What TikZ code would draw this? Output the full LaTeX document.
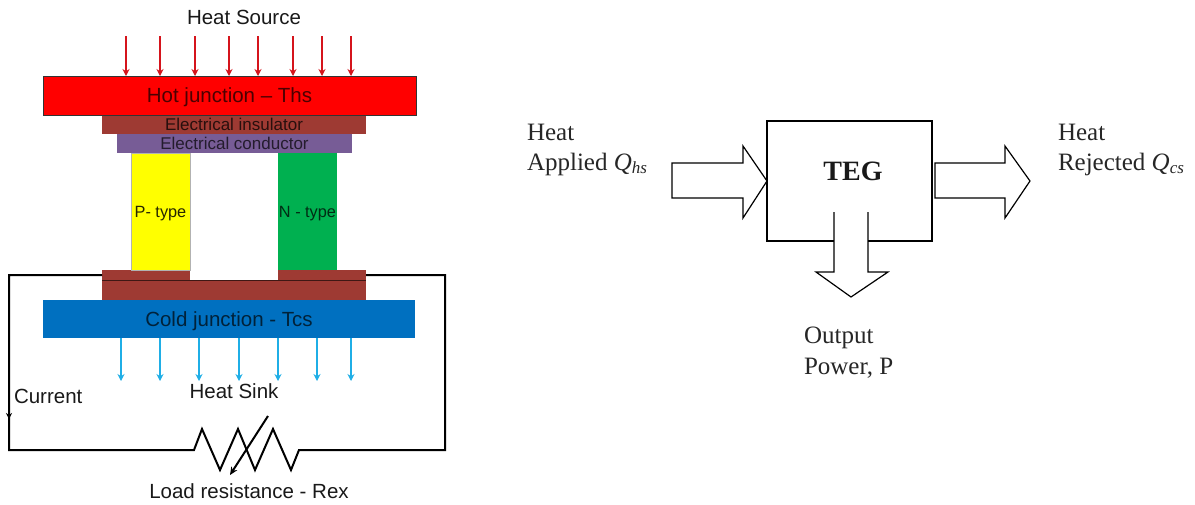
\documentclass[tikz,border=0pt]{standalone}
\usepackage{fontspec}
\setmainfont{Liberation Sans}
\newfontfamily\serifface{Liberation Serif}
\usetikzlibrary{arrows.meta}
\definecolor{hotred}{HTML}{FF0000}
\definecolor{insul}{HTML}{9E3A33}
\definecolor{condu}{HTML}{775C96}
\definecolor{ptype}{HTML}{FFFF00}
\definecolor{ntype}{HTML}{00B050}
\definecolor{coldb}{HTML}{0070C0}
\definecolor{sinkb}{HTML}{1FAEE6}
\definecolor{srcred}{HTML}{D5141C}
\tikzset{
  x=1pt,y=-1pt,
  slab/.style={rectangle,inner sep=0pt,outer sep=0pt,anchor=center,text depth=0pt},
  big/.style={font=\fontsize{20.5}{24}\selectfont},
  bigcap/.style={big,text height=14.8pt},
  mid/.style={font=\fontsize{17}{20}\selectfont,text height=12.2pt},
  small/.style={font=\fontsize{16.3}{20}\selectfont,text height=11.7pt},
  label/.style={inner sep=0pt,outer sep=0pt,text=black!90},
  heatin/.style={draw=srcred,line width=2pt,-{Stealth[length=7pt,width=7pt]}},
  heatout/.style={draw=sinkb,line width=2pt,-{Stealth[length=7pt,width=7pt]}},
  wire/.style={draw=black,line width=2pt,line join=miter},
  serifl/.style={inner sep=0pt,outer sep=0pt,align=left,anchor=north west,
    font=\serifface\fontsize{25}{30.5}\selectfont,text=black!85},
  flow/.style={draw=black,line width=1.2pt,line join=miter},
  box/.style={draw=black,line width=1.2pt},
}
\newcommand{\sbs}[1]{\raisebox{-3pt}{\fontsize{17}{20}\selectfont\itshape #1}}
\begin{document}
\begin{tikzpicture}
\useasboundingbox (0,0) rectangle (1195,504);
% left diagram: layers
\node[slab,fill=insul,minimum width=264pt,minimum height=20pt] (base) at (234,290) {};
\node[slab,fill=insul,minimum width=88pt,minimum height=10pt] (padl) at (146,275) {};
\node[slab,fill=insul,minimum width=88pt,minimum height=10pt] (padr) at (322,275) {};
\draw[black!60!insul,line width=.7pt] (base.north west) -- (base.north east);
\node[slab,fill=ptype,draw=black!30,line width=.4pt,minimum width=59pt,minimum height=117pt,small,text=black!85!ptype] (p) at (160.5,211.5) {P- type};
\node[slab,fill=ntype,minimum width=59pt,minimum height=117pt,small,text=black!75!ntype] (n) at (307.5,211.5) {N - type};
\node[slab,fill=insul,minimum width=264pt,minimum height=19pt,mid,text=black!75!insul] (ins) at (234,124.5) {Electrical insulator};
\node[slab,fill=condu,minimum width=235pt,minimum height=19pt,mid,text=black!70!condu] (con) at (234.5,143.5) {Electrical conductor};
\node[slab,fill=hotred,draw=black!80,line width=.9pt,minimum width=373pt,minimum height=39pt,bigcap,text=black!70!hotred] (hot) at (229.5,95.5) {Hot junction -- Ths};
\node[slab,fill=coldb,minimum width=372pt,minimum height=38pt,bigcap,text=black!70!coldb] (cold) at (229,319) {Cold junction - Tcs};
% heat arrows
\foreach \i/\x in {1/126,2/160,3/195,4/229,5/258,6/293,7/322,8/351}{
  \coordinate (r\i) at (\x,36);
  \draw[heatin] (r\i) -- (r\i |- hot.north);
}
\foreach \i/\x in {1/121,2/160,3/199,4/239,5/278,6/317,7/351}{
  \coordinate (b\i) at (\x,381);
  \draw[heatout] (b\i |- cold.south) -- (b\i);
}
% labels
\node[label,big] (src) at (244,17) {Heat Source};
\node[label,big] (sink) at (234,391.5) {Heat Sink};
\node[label,big,anchor=west] (cur) at (14,396) {Current};
\node[label,big] (rex) at (249,491) {Load resistance - Rex};
% circuit
\coordinate (wl) at (padl.west);
\coordinate (wr) at (padr.east);
\coordinate (rs) at (194,450);
\coordinate (re) at (299,450);
\draw[wire] (wl) -- (9,275) -- (9,450) -- (rs) -- (202,429) -- (220,470) -- (238,429) -- (255,470) -- (273,429) -- (291,470) -- (re) -- (445,450) -- (445,275) -- (wr);
\coordinate (curtop) at (9,411);
\coordinate (curtip) at (9,419);
\draw[black,line width=1pt,-{Stealth[length=6pt,width=6pt]}] (curtop) -- (curtip);
\coordinate (vs) at (268,416);
\coordinate (ve) at (230,475);
\draw[black,line width=2pt,-{Stealth[length=8pt,width=7pt]}] (vs) -- (ve);
% right diagram
\coordinate (bl) at (767,241);
\coordinate (br) at (932,241);
\node[inner sep=0pt,font=\serifface\bfseries\fontsize{28}{32}\selectfont,text=black!90] (teg) at (853,171) {TEG};
\draw[box] (834,241) -- (bl) -- (767,121) -- (932,121) -- (br) -- (868,241);
\draw[flow] (834,212) -- (834,272) -- (816,272) -- (851,297) -- (888,272) -- (868,272) -- (868,212);
\draw[flow] (672,163) -- (743,163) -- (743,146) -- (767,181) -- (743,218) -- (743,198) -- (672,198) -- cycle;
\draw[flow] (935,163) -- (1005,163) -- (1005,146) -- (1030,181) -- (1005,218) -- (1005,198) -- (935,198) -- cycle;
\node[serifl] (qin) at (527,124) {Heat\\Applied {\itshape Q}\sbs{hs}};
\node[serifl] (qout) at (1058,124) {Heat\\Rejected {\itshape Q}\sbs{cs}};
\node[serifl] (pow) at (804,327) {Output\\Power, P};
\end{tikzpicture}
\end{document}
